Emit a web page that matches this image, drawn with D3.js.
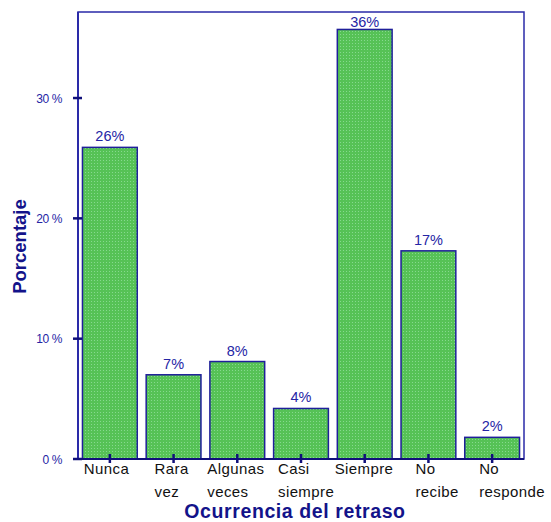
<!DOCTYPE html>
<html><head><meta charset="utf-8">
<script src="https://cdn.jsdelivr.net/npm/d3@7"></script>
<style>body{margin:0;background:#fff}svg{display:block}</style>
</head><body>
<script>
const categories = [["Nunca"],["Rara","vez"],["Algunas","veces"],["Casi","siempre"],["Siempre"],["No","recibe"],["No","responde"]];
const values = [25.9, 7.0, 8.1, 4.2, 35.7, 17.3, 1.8];
const valueLabels = ["26%","7%","8%","4%","36%","17%","2%"];
const yTicks = [0,10,20,30];
const yTickLabels = ["0 %","10 %","20 %","30 %"];
const xTitle = "Ocurrencia del retraso";
const yTitle = "Porcentaje";
// left offset of each category label relative to its tick (layout)
const labelDx = [-26,-19,-30,-23,-30,-13,-13];

const W=551,H=522;
const m={l:78,t:12,r:27,b:63};
const blue="#1f1f9a";
const font="Liberation Sans, Arial, sans-serif";
const svg=d3.select("body").append("svg").attr("width",W).attr("height",H);
const defs=svg.append("defs");
const pat=defs.append("pattern").attr("id","dots").attr("width",3).attr("height",3).attr("patternUnits","userSpaceOnUse");
pat.append("rect").attr("width",3).attr("height",3).attr("fill","#56c256");
pat.append("rect").attr("x",1).attr("y",1).attr("width",1).attr("height",1).attr("fill","#86d98e");

const x=d3.scaleBand().domain(d3.range(categories.length)).range([m.l,W-m.r]).paddingInner(0.14).paddingOuter(0.07);
const y=d3.scaleLinear().domain([0,37.15]).range([H-m.b,m.t]);

svg.append("rect").attr("x",m.l).attr("y",m.t).attr("width",W-m.r-m.l).attr("height",H-m.b-m.t)
  .attr("fill","none").attr("stroke","#2a2aa8").attr("stroke-width",1.5);

svg.selectAll(".bar").data(values).join("rect")
  .attr("x",(d,i)=>x(i)).attr("y",d=>y(d)).attr("width",x.bandwidth()).attr("height",d=>y(0)-y(d))
  .attr("fill","url(#dots)").attr("stroke",blue).attr("stroke-width",1.5);

svg.selectAll(".vl").data(values).join("text")
  .attr("x",(d,i)=>x(i)+x.bandwidth()/2).attr("y",d=>Math.max(y(d)-6,m.t+15))
  .attr("text-anchor","middle").attr("font-family",font)
  .attr("font-size",14.5).attr("fill","#2525a5").text((d,i)=>valueLabels[i]);

const yg=svg.append("g");
yg.append("line").attr("x1",m.l).attr("x2",m.l).attr("y1",m.t).attr("y2",y(0)).attr("stroke","#2a2aa8").attr("stroke-width",2);
yTicks.forEach((t,i)=>{
  yg.append("line").attr("x1",m.l-5).attr("x2",m.l+4).attr("y1",y(t)).attr("y2",y(t)).attr("stroke","#10107a").attr("stroke-width",2.5);
  yg.append("text").attr("x",m.l-16).attr("y",y(t)+4.5).attr("text-anchor","end")
    .attr("font-family",font).attr("font-size",12).attr("fill","#2525a5")
    .attr("letter-spacing","-0.4").text(yTickLabels[i]);
});
const xg=svg.append("g");
xg.append("line").attr("x1",m.l-5).attr("x2",W-m.r).attr("y1",y(0)).attr("y2",y(0)).attr("stroke","#10107a").attr("stroke-width",2);
categories.forEach((c,i)=>{
  const cx=x(i)+x.bandwidth()/2;
  xg.append("line").attr("x1",cx).attr("x2",cx).attr("y1",y(0)-5).attr("y2",y(0)+4).attr("stroke","#10107a").attr("stroke-width",2.5);
  const t=xg.append("text").attr("font-family",font).attr("font-size",15).attr("fill","#111").attr("letter-spacing","0.4");
  c.forEach((s,j)=>{
    t.append("tspan").attr("x",cx+labelDx[i]).attr("y",y(0)+15+j*22.5).text(s);
  });
});
svg.append("text").attr("x",295).attr("y",H-4).attr("text-anchor","middle")
  .attr("font-family",font).attr("font-weight","bold").attr("font-size",19.5).attr("letter-spacing","0.6").attr("fill","#13138a").text(xTitle);
svg.append("text").attr("transform",`translate(26,${(m.t+H-m.b)/2+11}) rotate(-90)`).attr("text-anchor","middle")
  .attr("font-family",font).attr("font-weight","bold").attr("font-size",18.5).attr("fill","#13138a").text(yTitle);
</script>
</body></html>
